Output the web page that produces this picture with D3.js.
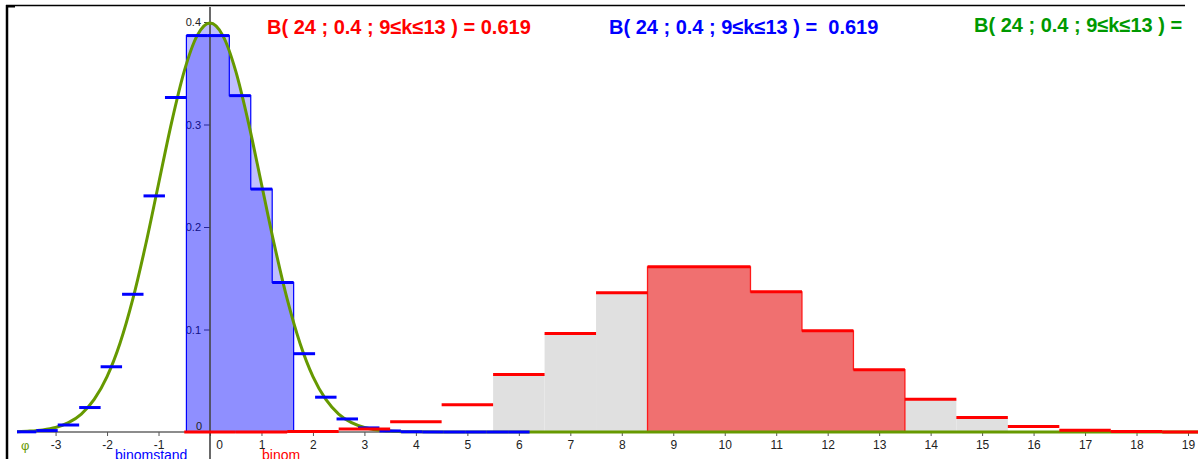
<!DOCTYPE html>
<html><head><meta charset="utf-8">
<script src="https://cdn.jsdelivr.net/npm/d3@7"></script>
<style>
html,body{margin:0;padding:0;background:#fff;overflow:hidden}
svg{display:block;font-family:"Liberation Sans",Arial,sans-serif}
</style>
</head><body>
<svg id="c" width="1198" height="459"></svg>
<script>
// ---------- data ----------
const binomN = 24, binomProb = 0.4;
const mu = 9.6, sigma = 2.4;
const binomK = [0,1,2,3,4,5,6,7,8,9,10,11,12,13,14,15,16,17,18,19,20,21,22,23,24];
const binomP = [0.0000047,0.0000758,0.000581,0.002842,0.009945,0.026520,0.055987,0.095978,0.135969,
                0.161149,0.161149,0.136733,0.098752,0.060770,0.031832,0.014148,0.005305,0.001664,
                0.000432,0.000091,0.000015,0.000002,0,0,0];
const redRange = [9, 13];     // k interval of the computed probability
const grayRange = [6, 15];    // shaded grey bars
const zGrid = [-20,-6,-5,-4.5,-4,-3.75,-3.5,-3.25,-3,-2.75,-2.5,-2.25,-2,-1.75,-1.5,-1.25,-1,-0.75,-0.5,-0.25,
               0,0.25,0.5,0.75,1,1.25,1.5,1.75,2,2.25,2.5,2.75,3,3.25,3.5,3.75,4,4.5,5,6,25];
const phiValues = [0,0,0.0000015,0.000016,0.000134,0.000353,0.000873,0.002029,0.004432,0.009094,0.017528,0.031740,
                   0.053991,0.086277,0.129518,0.182649,0.241971,0.301137,0.352065,0.386668,
                   0.398942,0.386668,0.352065,0.301137,0.241971,0.182649,0.129518,0.086277,0.053991,
                   0.031740,0.017528,0.009094,0.004432,0.002029,0.000873,0.000353,0.000134,0.000016,0.0000015,0,0];
const xTicks = [-3,-2,-1,0,1,2,3,4,5,6,7,8,9,10,11,12,13,14,15,16,17,18,19];
const yTicks = [0.1,0.2,0.3,0.4];
const resultText = "B( 24 ; 0.4 ; 9\u2264k\u226413 ) = 0.619";
const resultText2 = "B( 24 ; 0.4 ; 9\u2264k\u226413 ) =  0.619";
const resultText3 = "B( 24 ; 0.4 ; 9\u2264k\u226413 ) =";

// ---------- setup ----------
const W = 1198, H = 459;
const x = d3.scaleLinear().domain([0, 19]).range([210, 1188]);
const y = d3.scaleLinear().domain([0, 0.4]).range([432, 22]);
const svg = d3.select('#c');
svg.append('rect').attr('width', W).attr('height', H).attr('fill', '#fff');

const binom = binomK.map((k, i) => ({k, p: binomP[i]}));
const stand = binom.map(d => ({k: d.k, z: (d.k - mu) / sigma, h: d.p * sigma}));
const bw = 1 / sigma;
const zLo = (redRange[0] - 0.5 - mu) / sigma, zHi = (redRange[1] + 0.5 - mu) / sigma;
const curvePts = zGrid.map((z, i) => [z, phiValues[i]]);

const defs = svg.append('defs');
defs.append('clipPath').attr('id', 'plotClip').append('rect')
  .attr('x', 17).attr('y', 7).attr('width', W - 17).attr('height', H - 7);
defs.append('clipPath').attr('id', 'intClip').append('rect')
  .attr('x', x(zLo)).attr('y', 0).attr('width', x(zHi) - x(zLo)).attr('height', H);

const g = svg.append('g').attr('clip-path', 'url(#plotClip)');

// y-axis tick labels (drawn beneath bars)
const yAx = g.append('g').attr('transform', `translate(${x(0)},0)`)
  .call(d3.axisLeft(y).tickValues(yTicks).tickSize(6).tickPadding(3).tickFormat(d3.format('.1f')));
yAx.select('.domain').remove();
yAx.attr('font-family', null);
yAx.selectAll('line').attr('stroke', '#444').attr('stroke-width', 1);
yAx.selectAll('text').attr('font-size', 11).attr('fill', '#222');

const inGray = d => d.k >= grayRange[0] && d.k <= grayRange[1];
const inRed = d => d.k >= redRange[0] && d.k <= redRange[1];

// grey bars
g.selectAll('rect.gray').data(binom.filter(inGray)).join('rect').attr('class', 'gray')
  .attr('x', d => x(d.k - 0.5)).attr('width', d => x(d.k + 0.5) - x(d.k - 0.5))
  .attr('y', d => y(d.p)).attr('height', d => y(0) - y(d.p)).attr('fill', '#e0e0e0');

// histogram outline shape helper
const stepArea = d3.area().x(d => x(d[0])).y0(y(0)).y1(d => y(d[1])).curve(d3.curveStepAfter);
const redSel = binom.filter(inRed);
const redPts = redSel.map(d => [d.k - 0.5, d.p]).concat([[redSel[redSel.length - 1].k + 0.5, redSel[redSel.length - 1].p]]);
g.append('path').datum(redPts).attr('d', stepArea)
  .attr('fill', '#f07070').attr('stroke', '#ff1a1a').attr('stroke-width', 1.3);

// light blue integral under normal curve
const area = d3.area().x(d => x(d[0])).y0(y(0)).y1(d => y(d[1])).curve(d3.curveMonotoneX);
g.append('path').datum(curvePts).attr('d', area)
  .attr('fill', 'rgba(0,0,255,0.25)').attr('clip-path', 'url(#intClip)');

// blue standardized bars (outline shape)
const sb = stand.filter(inRed);
const bluePts = sb.map(d => [d.z - bw / 2, d.h]).concat([[sb[sb.length - 1].z + bw / 2, sb[sb.length - 1].h]]);
g.append('path').datum(bluePts).attr('d', stepArea)
  .attr('fill', 'rgba(0,0,255,0.25)').attr('stroke', '#0000ff').attr('stroke-width', 1.2);

// x axis
g.append('line').attr('x1', 17).attr('x2', W).attr('y1', y(0)).attr('y2', y(0))
  .attr('stroke', '#666').attr('stroke-width', 1.5);
const xAx = g.append('g').attr('transform', `translate(0,${y(0)})`)
  .call(d3.axisBottom(x).tickValues(xTicks).tickSize(4).tickPadding(4.5).tickFormat(d => String(d)));
xAx.select('.domain').remove();
xAx.attr('font-family', null);
xAx.selectAll('line').attr('stroke', '#555');
xAx.selectAll('text').attr('font-size', 12).attr('fill', '#222');
xAx.selectAll('.tick').filter(d => d === 0).select('text').attr('x', 9);

// y axis line
g.append('line').attr('x1', x(0)).attr('x2', x(0)).attr('y1', 7).attr('y2', H)
  .attr('stroke', '#444').attr('stroke-width', 1.6);
g.append('text').attr('x', x(0) - 8).attr('y', y(0) - 2).attr('text-anchor', 'end')
  .attr('font-size', 11).attr('fill', '#222').text('0');

// normal curve
const line = d3.line().x(d => x(d[0])).y(d => y(d[1])).curve(d3.curveMonotoneX);
g.append('path').datum(curvePts).attr('d', line).attr('fill', 'none')
  .attr('stroke', '#669900').attr('stroke-width', 3);

// blue step tops
g.selectAll('line.bstep').data(stand).join('line').attr('class', 'bstep')
  .attr('x1', d => x(d.z - bw / 2)).attr('x2', d => x(d.z + bw / 2))
  .attr('y1', d => y(d.h)).attr('y2', d => y(d.h))
  .attr('stroke', '#0000ff').attr('stroke-width', 3);
// red step tops
g.selectAll('line.rstep').data(binom).join('line').attr('class', 'rstep')
  .attr('x1', d => x(d.k - 0.5)).attr('x2', d => x(d.k + 0.5))
  .attr('y1', d => y(d.p)).attr('y2', d => y(d.p))
  .attr('stroke', '#ff0000').attr('stroke-width', 3);

// axis labels
g.append('text').attr('x', 21).attr('y', 450).attr('font-size', 13).attr('fill', '#669900').text('\u03c6');
g.append('text').attr('x', 115).attr('y', 460).attr('font-size', 14).attr('fill', '#0000ff').text('binomstand');
g.append('text').attr('x', 262).attr('y', 460).attr('font-size', 14).attr('fill', '#ff0000').text('binom');

// result texts
g.append('text').attr('x', 267).attr('y', 34).attr('font-size', 20).attr('font-weight', 'bold')
  .attr('fill', '#ff0000').style('white-space', 'pre').text(resultText);
g.append('text').attr('x', 609).attr('y', 34).attr('font-size', 20).attr('font-weight', 'bold')
  .attr('fill', '#0000ff').style('white-space', 'pre').text(resultText2);
g.append('text').attr('x', 974).attr('y', 32).attr('font-size', 20).attr('font-weight', 'bold')
  .attr('fill', '#009900').style('white-space', 'pre').text(resultText3);

// frame
svg.append('line').attr('x1', 7).attr('x2', 7).attr('y1', 5).attr('y2', H).attr('stroke', '#000').attr('stroke-width', 2.5);
svg.append('line').attr('x1', 6).attr('x2', 1185).attr('y1', 5.5).attr('y2', 5.5).attr('stroke', '#000').attr('stroke-width', 1.5);
svg.append('rect').attr('x', 6).attr('y', 5).attr('width', 9).attr('height', 2.5).attr('fill', '#000');
</script>
</body></html>
